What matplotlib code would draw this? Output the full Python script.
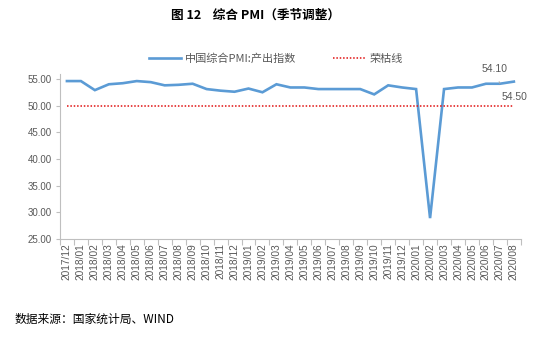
import numpy as np
import matplotlib.pyplot as plt
from matplotlib.ticker import FixedLocator

plt.rcParams['font.family'] = ['Noto Sans CJK SC', 'DejaVu Sans']

# 中国综合PMI:产出指数, 月度
months = ['2017/12', '2018/01', '2018/02', '2018/03', '2018/04', '2018/05', '2018/06',
          '2018/07', '2018/08', '2018/09', '2018/10', '2018/11', '2018/12', '2019/01',
          '2019/02', '2019/03', '2019/04', '2019/05', '2019/06', '2019/07', '2019/08',
          '2019/09', '2019/10', '2019/11', '2019/12', '2020/01', '2020/02', '2020/03',
          '2020/04', '2020/05', '2020/06', '2020/07', '2020/08']
pmi = [54.6, 54.6, 52.9, 54.0, 54.2, 54.6, 54.4, 53.8, 53.9, 54.1, 53.1, 52.8, 52.6,
       53.2, 52.5, 54.0, 53.4, 53.4, 53.1, 53.1, 53.1, 53.1, 52.1, 53.8, 53.4, 53.1,
       28.9, 53.1, 53.4, 53.4, 54.1, 54.1, 54.5]
line_50 = [50.0] * len(months)

x = np.arange(len(months))
grey = '#595959'
axis_c = '#BFBFBF'

fig = plt.figure(figsize=(5.5, 3.37), dpi=100)
ax = fig.add_axes([0.109, 0.291, 0.838, 0.489])

l1, = ax.plot(x, pmi, color='#5B9BD5', lw=1.9, solid_joinstyle='miter')
l2, = ax.plot(x, line_50, color='#E01010', lw=1.1, ls=(0, (1, 1.2)))

ax.set_xlim(-0.5, len(months) - 0.5)
ax.set_ylim(25, 55.9)
ax.set_yticks(np.arange(25, 56, 5))
ax.set_yticklabels(['%.2f' % v for v in np.arange(25, 56, 5)],
                   family=['Liberation Sans'], fontsize=7, color=grey)
ax.set_xticks(x)
ax.set_xticklabels(months, rotation=90, family=['Liberation Sans'],
                   fontsize=7.3, color=grey)
ax.xaxis.set_minor_locator(FixedLocator(np.arange(-0.5, len(months), 1)))
ax.tick_params(axis='x', which='major', length=0, pad=3)
ax.tick_params(axis='x', which='minor', length=4, color=axis_c, width=0.8)
ax.tick_params(axis='y', length=3, color=axis_c, width=0.8, pad=3)

for s in ['top', 'right']:
    ax.spines[s].set_visible(False)
for s in ['left', 'bottom']:
    ax.spines[s].set_color(axis_c)
    ax.spines[s].set_linewidth(0.8)

# 最近两个月的数据标签
ax.annotate('%.2f' % pmi[-2], xy=(x[-2], pmi[-2]), xytext=(x[-2] - 0.4, 56.95),
            ha='center', va='center', fontsize=7.5, color=grey, family=['Liberation Sans'],
            annotation_clip=False,
            arrowprops=dict(arrowstyle='-', color='#A6A6A6', lw=0.6, shrinkA=4, shrinkB=0))
ax.text(x[-1] + 0.05, 51.55, '%.2f' % pmi[-1], ha='center', va='center',
        fontsize=7.5, color=grey, family=['Liberation Sans'])

fig.legend([l1, l2], ['中国综合PMI:产出指数', '荣枯线'], loc='center',
           bbox_to_anchor=(0.502, 0.825), ncol=2, frameon=False, fontsize=8,
           handlelength=2.9, columnspacing=3.3, handletextpad=0.4,
           labelcolor=grey)

fig.text(0.465, 0.955, '图 12    综合 PMI（季节调整）', ha='center', va='center',
         fontsize=9.1, fontweight='bold', color='black')
fig.text(0.027, 0.053, '数据来源：国家统计局、WIND', ha='left', va='center',
         fontsize=8.5, color='black')

fig.savefig('out.png', dpi=100)
